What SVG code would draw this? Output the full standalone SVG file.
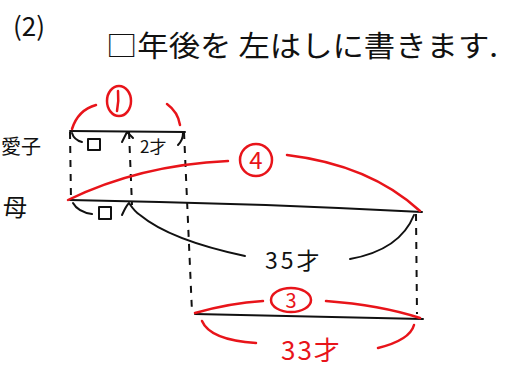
<svg xmlns="http://www.w3.org/2000/svg" width="511" height="372" viewBox="0 0 511 372">
<style>
.t{font-family:"Noto Sans CJK JP","Noto Sans",sans-serif;fill:#111}
.r{font-family:"Noto Sans CJK JP","Noto Sans",sans-serif;fill:#e8141a}
.k{fill:none;stroke:#111;stroke-width:2;stroke-linecap:round;stroke-linejoin:round}
.d{fill:none;stroke:#111;stroke-width:2;stroke-dasharray:7 7}
.rl{fill:none;stroke:#e8141a;stroke-width:2.5;stroke-linecap:round}
</style>
<rect width="511" height="372" fill="#fff"/>
<g id="title">
<text class="t" x="13" y="36" font-size="26">(2)</text>
<text class="t" x="106" y="57" font-size="29" textLength="392" lengthAdjust="spacingAndGlyphs">□年後を 左はしに書きます.</text>
</g>
<g id="child">
<text class="t" x="1" y="154" font-size="20">愛子</text>
<path class="k" d="M70,131 L185,132"/>
</g>
<g id="mother">
<text class="t" x="3" y="216" font-size="24">母</text>
<path class="k" d="M70,200 Q250,203 422,212"/>
</g>
<g id="future">
<path class="k" d="M195,314 L423,319"/>
</g>
<g id="connectors">
<path class="d" d="M70,132 L71,200"/>
<path class="d" d="M129,132 L132,205"/>
<path class="d" d="M184,132 L192,312"/>
<path class="d" d="M416,214 L417,314"/>
<!-- child braces -->
<path class="k" d="M72,133 Q74,140 82,142"/>
<rect class="k" x="88" y="139" width="12" height="11"/>
<path class="k" d="M122,142 L127,132 L133,138"/>
<text class="t" x="140" y="153" font-size="17">2才</text>
<path class="k" d="M183,133 Q183,140 178,145"/>
<!-- mother braces -->
<path class="k" d="M73,203 Q78,212 92,214"/>
<rect class="k" x="99" y="207" width="12" height="12"/>
<path class="k" d="M122,215 Q126,206 129,203 Q135,212 140,215 Q170,240 245,256"/>
<text class="t" x="265" y="269" font-size="23" letter-spacing="3">35才</text>
<path class="k" d="M350,259 Q400,250 414,215"/>
<!-- red ① -->
<path class="rl" d="M72,129 Q78,110 96,105"/>
<ellipse class="rl" cx="119" cy="101" rx="12" ry="15"/>
<path class="rl" d="M118,91 Q119,101 117,111"/>
<path class="rl" d="M167,104 Q178,112 180,125"/>
<!-- red ④ -->
<path class="rl" d="M68,200 Q140,165 228,161"/>
<circle class="rl" cx="256" cy="160" r="16"/>
<text class="r" x="256" y="169" font-size="24" text-anchor="middle">4</text>
<path class="rl" d="M287,155 Q370,165 420,211"/>
<!-- red ③ above -->
<path class="rl" d="M195,313 Q230,303 263,301"/>
<ellipse class="rl" cx="291" cy="300" rx="20" ry="12"/>
<text class="r" x="291" y="308" font-size="20" text-anchor="middle">3</text>
<path class="rl" d="M326,301 Q380,305 420,318"/>
<!-- red below -->
<path class="rl" d="M202,321 Q210,340 256,343"/>
<text class="r" x="281" y="360" font-size="26" letter-spacing="2">33才</text>
<path class="rl" d="M378,348 Q410,340 414,325"/>
</g>
</svg>
